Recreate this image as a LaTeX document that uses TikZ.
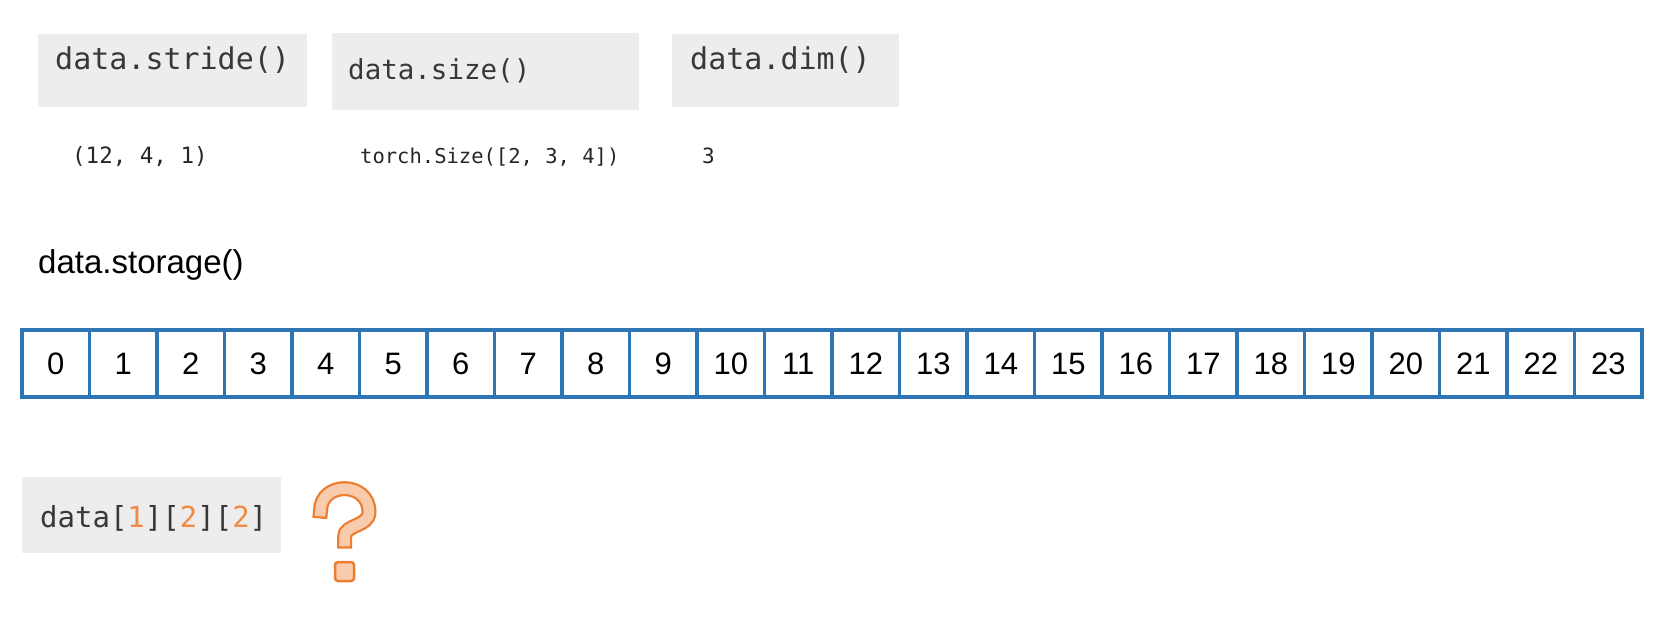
\documentclass[tikz,border=0pt]{standalone}
\usepackage{fontspec}
\setmainfont{Liberation Sans}
\newfontfamily\mono{DejaVu Sans Mono}
\definecolor{boxgray}{HTML}{EDEDED}
\definecolor{txtgray}{HTML}{383838}
\definecolor{arrblue}{HTML}{2E75B6}
\definecolor{qorange}{HTML}{ED7D31}
\definecolor{qdigit}{HTML}{F08A45}
\definecolor{qfill}{HTML}{F8CBAD}
\begin{document}
\begin{tikzpicture}[x=1pt,y=-1pt,
  graybox/.style={fill=boxgray, draw=none, inner sep=0pt},
  codetext/.style={anchor=west, inner sep=0pt, text=txtgray},
  cell/.style={draw=arrblue, line width=3.5pt, minimum width=67.5pt, minimum height=67pt, inner sep=0pt, font=\fontsize{31}{36}\selectfont}]
\useasboundingbox (0,0) rectangle (1662,618);
% top boxes
\node[graybox, minimum width=269pt, minimum height=73pt] (bstride) at (172.5,70.5) {};
\node[graybox, minimum width=307pt, minimum height=77pt] (bsize) at (485.5,71.5) {};
\node[graybox, minimum width=227pt, minimum height=73pt] (bdim) at (785.5,70.5) {};
\node[codetext, font=\mono\fontsize{30}{36}\selectfont] (tstride) at (55,60) {data.stride()};
\node[codetext, font=\mono\fontsize{27.5}{32}\selectfont] (tsize) at (348,71) {data.size()};
\node[codetext, font=\mono\fontsize{30}{36}\selectfont] (tdim) at (690,60) {data.dim()};
% results
\node[codetext, text=black!85, font=\mono\fontsize{22.5}{27}\selectfont] (rstride) at (72,157) {(12, 4, 1)};
\node[codetext, text=black!85, font=\mono\fontsize{20.5}{25}\selectfont] (rsize) at (360,157) {torch.Size([2, 3, 4])};
\node[codetext, text=black!85, font=\mono\fontsize{21}{25}\selectfont] (rdim) at (702,156) {3};
% storage
\node[anchor=west, inner sep=0pt, font=\fontsize{33}{40}\selectfont] (storage) at (38,265) {data.storage()};
\foreach \i in {0,...,23} {
  \node[cell] (c\i) at ({55.75+67.5*\i},363.5) {\i};
}
% index
\node[graybox, minimum width=259pt, minimum height=76pt] (bidx) at (151.5,515) {};
\node[codetext, font=\mono\fontsize{29}{34}\selectfont] (tidx) at (40,518)
  {data[\textcolor{qdigit}{1}][\textcolor{qdigit}{2}][\textcolor{qdigit}{2}]};
% question mark
\draw[qorange, line width=15pt, line cap=rect]
  (320.5,511) .. controls (320.5,481) and (369,481) .. (369,512)
  .. controls (369,527) and (344.5,524) .. (344.5,537) -- (344.5,541);
\draw[qfill, line width=10.5pt, line cap=rect]
  (320.5,511) .. controls (320.5,481) and (369,481) .. (369,512)
  .. controls (369,527) and (344.5,524) .. (344.5,537) -- (344.5,541);
\draw[qorange, fill=qfill, line width=2.5pt, rounded corners=3pt] (335,562) rectangle (354,581);
\end{tikzpicture}
\end{document}
